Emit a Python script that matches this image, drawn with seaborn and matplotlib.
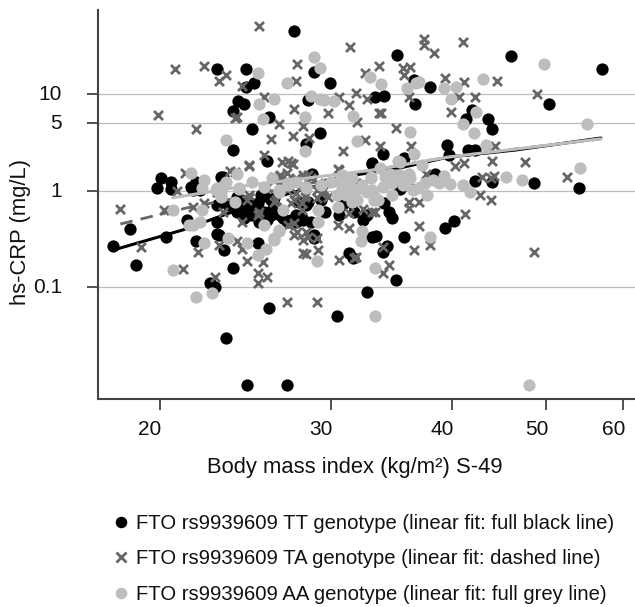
import matplotlib
matplotlib.use('Agg')
import matplotlib.pyplot as plt
import seaborn as sns
from matplotlib.lines import Line2D
from matplotlib.transforms import ScaledTranslation

tt_bmi = [27.5, 22.9, 24.5, 28.8, 29.9, 25, 24.5, 24.05, 24.4, 23.8, 25.9, 28.4, 24.9, 29.2, 28.3, 23.8, 25.8, 33.1,
          20.05, 20.5, 19.85, 20.5, 21.6, 21.8, 23.1, 28.7, 35.1, 46, 57, 36.5, 37.9, 33.3, 34, 36.6, 50.3, 41.9,
          41.3, 43.5, 43.9, 39.5, 39.7, 33.9, 41.5, 42.2, 35.7, 33.1, 38.4, 48.5, 54, 43.9, 42.2, 35.3, 18.6, 17.9,
          20.3, 18.9, 21.3, 22.9, 22.9, 21.8, 23.3, 23.8, 22.5, 22.8, 23.4, 25.9, 30.4, 24.6, 27, 32.7, 31.3, 31.6,
          28.8, 25.2, 32.4, 33.1, 34, 34.4, 34.7, 33.4, 35.7, 34.3, 33.9, 39.3, 40.2, 35,
          23.5, 24, 24.3, 24.6, 24.8, 25.2, 25.4, 25.6, 26, 26.1, 25.6, 26.3, 26.6, 27.3, 27.6, 28, 27, 22.9, 28.3,
          29.3, 29.6, 30.8, 31.1, 32.7, 27.8, 28.6, 31.7, 22, 24,
          24.4, 24.8, 25.3, 25.8, 26.2, 26, 24.3, 21.5, 21.8, 23.2, 23, 28.4, 28.1, 31.5, 30.6, 28.8, 26.8, 27.6, 26.5]
tt_crp = [45, 18.1, 18.1, 16.9, 13, 13, 11.9, 8.5, 7.9, 6.7, 5.8, 8.66, 4.35, 3.93, 3.03, 2.63, 2.02, 1.88,
          1.35, 1.22, 1.06, 1.03, 1.01, 1.14, 1.38, 1.5, 25.4, 25, 18.1, 14, 11.9, 9.3, 9.5, 7.9, 7.9, 6.83,
          5.5, 5.5, 4.35, 2.96, 2.33, 2.4, 2.63, 2.63, 2.17, 1.93, 1.5, 1.2, 1.06, 1.22, 1.25, 1.03, 0.4, 0.266,
          0.33, 0.169, 0.495, 0.47, 0.355, 0.3, 0.242, 0.158, 0.11, 0.1, 0.03, 0.061, 0.05, 0.0097, 0.0097, 0.089, 0.225, 0.2,
          0.32, 0.285, 0.495, 0.33, 0.742, 0.6, 0.52, 0.338, 0.33, 0.266, 0.23, 0.41, 0.483, 0.118,
          0.707, 0.6, 0.797, 0.628, 0.557, 0.74, 0.9, 0.6, 0.797, 0.628, 0.88, 0.67, 0.557, 0.495, 0.47, 0.52, 0.47, 0.707, 0.707,
          0.8, 0.6, 0.707, 0.9, 0.557, 0.76, 0.47, 0.6, 1.01, 0.86,
          0.52, 0.707, 0.47, 0.495, 0.83, 0.557, 0.66, 1.08, 1.22, 1.38, 0.346, 0.76, 0.495, 0.74, 0.557, 0.346, 0.52, 0.557, 0.6]

ta_bmi = [25.3, 31.4, 20.7, 22.2, 23.4, 23, 27.7, 27.6, 24.3, 32.5, 31.8, 32.7, 25.6, 30.6, 31.3, 27.5, 29.8, 19.9,
          24, 23.9, 31.9, 26.5, 28.1, 21.8, 26, 27.4, 28.5, 30.9, 25.6, 24.7, 27.1, 26.7, 27.4, 30.5, 23.6, 21.2,
          20.8, 26.5, 27, 26.2, 37.4, 37.4, 38.3, 41, 33.6, 36.2, 35.6, 35.7, 39.3, 41.1, 44.5, 40.6, 42.2, 48.9,
          36.1, 39.9, 33.8, 33.6, 35, 32.5, 33.7, 36.3, 44.3, 44, 47.5, 41.1, 40.3, 52.5, 37.6, 42.9, 44.2, 43.8,
          18.2, 20.2, 19.1, 21.1, 21.9, 22.8, 24.6, 25.5, 25.2, 25.8, 25.2, 27, 29, 28.3, 29.1, 30.6, 31.7, 24,
          24.3, 23, 27.5, 28.1, 29, 30.5, 31.3, 25.2, 24.3, 22.2, 21.6, 42.7, 43.8, 41.2, 37, 36.5, 37.9, 34.4, 33.9,
          48.5, 36.1, 36.1, 37, 33.1, 32.4, 33.9, 31.8,
          26.5, 27, 27.6, 28, 28.6, 29.1, 27, 27.5, 28, 27.6, 28.3, 29, 29.3, 29.8, 31.3, 31.8, 36.6, 28.4, 28.1, 33.3,
          25.8, 24.7, 26.3, 22.9, 24.6,
          24.7, 27.3, 26.6, 26.2, 23.9, 28.2, 27.3, 28, 26.2, 25.3, 23.2, 27.1, 27.7, 28.3, 27.5, 30.6, 29.5, 28.4, 28.1, 29, 31.5]
ta_crp = [50.6, 30.8, 18.1, 19.5, 15.7, 13.7, 20.4, 13.7, 12.1, 16.4, 10.3, 8.9, 9.3, 9.3, 7.7, 7, 6.3, 6.06,
          5.8, 5.6, 5.1, 4.9, 4.66, 4.35, 3.42, 3.67, 3.5, 2.56, 2.33, 1.79, 2.02, 1.97, 1.88, 1.67, 1.59, 1.52,
          0.99, 1.38, 1.52, 1.28, 37, 32.1, 26.6, 34.5, 19.5, 19, 18.6, 15.7, 14.6, 13.3, 13.6, 9.3, 9.3, 10,
          9.3, 6.5, 6.3, 6.3, 4.45, 3.34, 2.9, 2.9, 2.9, 2.02, 1.97, 1.93, 1.79, 1.38, 1.5, 1.38, 1.41, 1.35,
          0.64, 0.63, 0.26, 0.153, 0.23, 0.127, 0.186, 0.182, 0.14, 0.127, 0.11, 0.07, 0.07, 0.22, 0.242, 0.19, 0.2, 0.3,
          0.25, 0.272, 0.346, 0.307, 0.32, 0.44, 0.41, 0.557, 0.47, 0.74, 0.67, 0.9, 0.8, 0.57, 0.43, 0.242, 0.272, 0.169, 0.14,
          0.23, 0.76, 0.66, 0.76, 0.6, 0.64, 0.26, 0.205,
          1.14, 1.28, 1.35, 1.14, 1.35, 1.2, 1.01, 0.8, 0.63, 0.94, 0.9, 1.01, 0.94, 0.86, 0.58, 1.2, 1.08, 0.33, 0.225, 0.6,
          1.08, 0.9, 0.8, 0.96, 0.8,
          1.84, 1.93, 1.45, 1.38, 1.55, 0.86, 0.74, 0.74, 0.76, 0.6, 0.6, 0.44, 0.37, 0.37, 0.46, 1.63, 1.01, 1.45, 1.45, 0.84, 1.22]

aa_bmi = [28.8, 29.2, 25.2, 27, 32.9, 26.2, 28.6, 29.2, 29.5, 30.2, 25.3, 31.6, 28.2, 25.5, 31.9, 23.4, 28.2, 21.5,
          24, 22.2, 23.4, 24.9, 22.1, 22.9, 24.1, 25.6, 26.5, 27.1, 28.3, 30, 30.6, 23.1, 49.7, 33.8, 35.9, 36.7,
          37, 39.2, 40.4, 43, 39.9, 42.3, 41, 55, 42.1, 36.2, 43.3, 36.5, 35.2, 37.2, 54.2, 45.4, 47.2, 33.7, 33,
          34.5, 39.2, 38.8, 39.8, 41, 41.7, 37.5, 36.2, 35.3, 33.1, 37.7, 34.7, 20.6, 21.4, 22, 22.1, 23.9, 20.6,
          22.2, 23.5, 24.6, 25.2, 25.7, 26.2, 26.5, 25.6, 26.8, 29.1, 29.1, 30.5, 21.8, 22.6, 29, 32.3, 32.2, 37.9,
          33.3, 33.3, 48, 33.2,
          30.8, 31.5, 32.3, 31.1, 32.7, 31.9, 33.9, 34.3, 35.6, 36.4, 38.2, 31.5, 30.8, 29.3, 27.6, 26.1, 31.1, 33.5, 34.7,
          22.85, 23.25, 23.1, 24.1, 26.5, 27.1, 28.3, 21.6, 26.5, 26.2, 30.9, 31.5, 32.2, 33, 33.3, 34.1, 35, 36.1, 35.3,
          36.9, 31.6, 30.4]
aa_crp = [24.2, 18.6, 16.4, 13, 15, 8.9, 9.5, 8.9, 8.66, 8.5, 7.9, 5.9, 5.8, 5.5, 3.25, 3.34, 2.56, 1.52,
          1.48, 1.28, 1.22, 1.22, 1.06, 1.06, 1.06, 1.08, 1.01, 1.2, 1.08, 1.22, 1.22, 0.86, 20.4, 12.7, 11.6, 13,
          13.3, 11.6, 11.9, 14.3, 8.9, 6.5, 4.9, 4.9, 3.93, 4, 2.96, 2.4, 2.02, 1.84, 1.71, 1.38, 1.28, 1.71, 1.38,
          1.5, 1.41, 1.2, 1.17, 1.14, 0.97, 1.2, 1.35, 1.45, 1.01, 0.9, 0.9, 0.63, 0.44, 0.47, 0.63, 0.76, 0.15,
          0.285, 0.32, 0.285, 0.215, 0.25, 0.307, 0.38, 0.44, 0.63, 0.63, 0.47, 0.67, 0.079, 0.086, 0.186, 0.38, 0.3, 0.33,
          0.158, 0.05, 0.0097, 0.8,
          1.01, 1.06, 1.14, 0.9, 0.97, 0.8, 1.08, 1.28, 1.14, 1.01, 1.28, 1.35, 1.45, 1.14, 1.22, 1.35, 1.2, 0.8, 1.2,
          1.01, 1.14, 0.94, 1.04, 0.96, 1.14, 1.06, 0.44, 0.39, 0.32, 1.01, 0.76, 1.06, 1.35, 0.86, 1.38, 1.45, 1.5, 1.97,
          1.06, 0.9, 0.9]

# linear fits, they bend a bit on the log axes
tt_fit_bmi = [17.9, 21.1, 25.5, 31.8, 35.3, 39.6, 46.5, 56.9]
tt_fit_crp = [0.242, 0.39, 0.78, 1.45, 1.71, 2.22, 2.63, 3.5]
ta_fit_bmi = [18.2, 21.3, 28, 33.1, 39.6, 56.9]
ta_fit_crp = [0.45, 0.66, 1.14, 1.63, 2.22, 3.43]
aa_fit_bmi = [20.6, 24.8, 33.1, 39.6, 56.9]
aa_fit_crp = [0.84, 1.14, 1.63, 2.22, 3.43]

x_ticks = [20, 30, 40, 50, 60]
y_ticks = [0.1, 1, 5, 10]
y_tick_labels = ['0.1', '1', '5', '10']
legend_labels = ['FTO rs9939609 TT genotype (linear fit: full black line)',
                 'FTO rs9939609 TA genotype (linear fit: dashed line)',
                 'FTO rs9939609 AA genotype (linear fit: full grey line)']

BLACK = '#000000'
MID = '#666666'
LIGHT = '#bdbdbd'

sns.set_style('white')
plt.rcParams['font.family'] = ['Liberation Sans', 'DejaVu Sans']

fig = plt.figure(figsize=(6.35, 6.07), dpi=100)
ax = fig.add_axes([98 / 635, 208 / 607, 537 / 635, 389 / 607])
ax.set_xscale('log')
ax.set_yscale('log')

sns.scatterplot(x=tt_bmi, y=tt_crp, color=BLACK, s=78, linewidth=0, ax=ax, zorder=3, legend=False)
sns.lineplot(x=tt_fit_bmi, y=tt_fit_crp, color=BLACK, linewidth=2.2, ax=ax, zorder=4, legend=False)
sns.scatterplot(x=ta_bmi, y=ta_crp, color=MID, marker='x', s=42, linewidth=2, ax=ax, zorder=5, legend=False)
sns.lineplot(x=ta_fit_bmi, y=ta_fit_crp, color=MID, linewidth=2, linestyle=(0, (4.5, 3)), ax=ax, zorder=6, legend=False)
sns.scatterplot(x=aa_bmi, y=aa_crp, color=LIGHT, s=78, linewidth=0, ax=ax, zorder=7, legend=False)
sns.lineplot(x=aa_fit_bmi, y=aa_fit_crp, color=LIGHT, linewidth=2.2, ax=ax, zorder=8, legend=False)

ax.set_xlim(17.26, 61.7)
ax.set_ylim(0.00692, 74.2)
ax.set_xticks(x_ticks)
ax.set_xticklabels([str(t) for t in x_ticks])
ax.set_yticks(y_ticks)
ax.set_yticklabels(y_tick_labels)
ax.xaxis.set_minor_locator(plt.NullLocator())
ax.yaxis.set_minor_locator(plt.NullLocator())
ax.tick_params(axis='both', length=8, width=1.2, color='#333333', labelsize=15, labelcolor='#111111', pad=7,
               bottom=True, left=True)
ax.tick_params(axis='y', pad=18)

# the x labels sit a little left of their ticks
shift = ScaledTranslation(-10 / 100, 0, fig.dpi_scale_trans)
for lab in ax.get_xticklabels():
    lab.set_transform(lab.get_transform() + shift)
lift = ScaledTranslation(0, 1.5 / 100, fig.dpi_scale_trans)
for lab in ax.get_yticklabels():
    lab.set_transform(lab.get_transform() + lift)

ax.yaxis.grid(True, color='#bbbbbb', linewidth=0.9, zorder=0)
ax.xaxis.grid(False)
ax.set_axisbelow(True)

sns.despine(ax=ax)
ax.spines['left'].set_color('#444444')
ax.spines['bottom'].set_color('#444444')
ax.spines['left'].set_linewidth(1.5)
ax.spines['bottom'].set_linewidth(1.5)

fig.text(355 / 635, 1 - 467 / 607, 'Body mass index (kg/m²) S-49', fontsize=15.8, color='#111111', ha='center', va='center')
fig.text(21 / 635, 1 - 232 / 607, 'hs-CRP (mg/L)', fontsize=15.8, color='#111111', rotation=90, ha='center', va='center')

handles = [Line2D([], [], linestyle='none', marker='o', color=BLACK, markersize=8.3, markeredgewidth=0),
           Line2D([], [], linestyle='none', marker='x', color=MID, markersize=6.5, markeredgewidth=2),
           Line2D([], [], linestyle='none', marker='o', color=LIGHT, markersize=8.3, markeredgewidth=0)]
fig.legend(handles, legend_labels, loc='upper left', bbox_to_anchor=(107 / 635, 1 - 514 / 607),
           frameon=False, fontsize=14.6, labelspacing=0.81, handletextpad=0.05, handlelength=1.4,
           borderpad=0, borderaxespad=0, labelcolor='#111111')

fig.savefig('out.png', dpi=100)
